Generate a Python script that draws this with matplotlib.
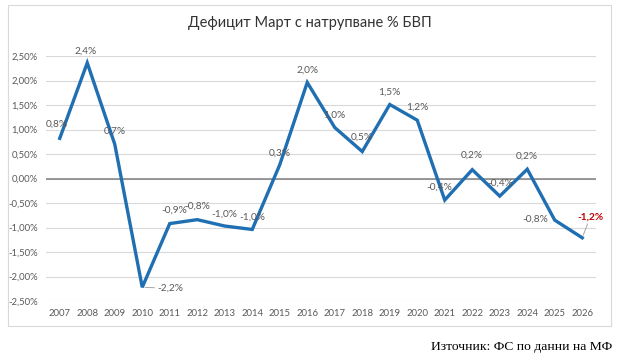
import matplotlib.pyplot as plt
from matplotlib.patches import Rectangle

plt.rcParams['font.family'] = ['Lato', 'DejaVu Sans']

years = [str(y) for y in range(2007, 2027)]
values = [0.82, 2.36, 0.70, -2.22, -0.92, -0.84, -0.97, -1.04, 0.28, 1.96,
          1.04, 0.55, 1.51, 1.19, -0.44, 0.18, -0.36, 0.19, -0.85, -1.21]
labels = ['0,8%', '2,4%', '0,7%', '-2,2%', '-0,9%', '-0,8%', '-1,0%', '-1,0%', '0,3%', '2,0%',
          '1,0%', '0,5%', '1,5%', '1,2%', '-0,4%', '0,2%', '-0,4%', '0,2%', '-0,8%', '-1,2%']
yticks = [-2.5, -2.0, -1.5, -1.0, -0.5, 0.0, 0.5, 1.0, 1.5, 2.0, 2.5]

line_color = '#1f6fb2'
text_gray = '#595959'

# label offsets in pixels (dx, dy) from the data point
offsets = {0: (-3, 14), 1: (-2, 12), 2: (0, 13), 3: (28, -1), 4: (5, 13), 5: (0, 13),
           6: (0, 12), 7: (0, 12), 8: (0, 12), 9: (0, 12), 10: (0, 12), 11: (0, 14),
           12: (0, 12), 13: (0, 13), 14: (-5, 13), 15: (0, 14), 16: (1, 13), 17: (0, 13),
           18: (-19, 1), 19: (8, 21)}

fig = plt.figure(figsize=(6.26, 3.61), dpi=100)
fig.patches.append(Rectangle((8 / 626, 1 - 326 / 361), 603 / 626, 321 / 361,
                             transform=fig.transFigure, fill=False, edgecolor='#d9d9d9', lw=0.8))
ax = fig.add_axes([46 / 626, 1 - 301 / 361, 550 / 626, 245 / 361])

x = list(range(len(years)))
ax.plot(x, values, color=line_color, lw=2.4, solid_joinstyle='miter', zorder=3)
ax.axhline(0, color='#7f7f7f', lw=1.1, zorder=2)

for i, (v, lab) in enumerate(zip(values, labels)):
    dx, dy = offsets[i]
    red = i == 19
    arrow = None
    if i in (3, 19):
        arrow = dict(arrowstyle='-', color='#a6a6a6', lw=0.7, shrinkA=0, shrinkB=2)
    ax.annotate(lab, (i, v), xytext=(dx, dy), textcoords='offset pixels',
                ha='center', va='center', fontsize=7.3,
                color='#c00000' if red else text_gray, fontweight='bold' if red else 'normal',
                arrowprops=arrow, zorder=4)

ax.set_xlim(-0.5, len(years) - 0.5)
ax.set_ylim(-2.5, 2.5)
ax.set_xticks(x)
ax.set_xticklabels(years)
ax.set_yticks(yticks)
ax.set_yticklabels([f'{t:.2f}%'.replace('.', ',') for t in yticks])
ax.tick_params(axis='both', length=0, labelsize=6.8, colors=text_gray)
ax.tick_params(axis='x', pad=6)
ax.tick_params(axis='y', pad=6)
ax.grid(axis='y', color='#d9d9d9', lw=0.8)
ax.set_axisbelow(True)
for s in ax.spines.values():
    s.set_visible(False)

fig.text(310 / 626, 1 - 23 / 361, 'Дефицит Март с натрупване % БВП', ha='center', va='center',
         fontsize=10.5, color='#333333')
fig.text(612 / 626, 1 - 347 / 361, 'Източник: ФС по данни на МФ', ha='right', va='center',
         fontsize=9.7, family='Liberation Serif', color='black')

fig.savefig('out.png', dpi=100)
